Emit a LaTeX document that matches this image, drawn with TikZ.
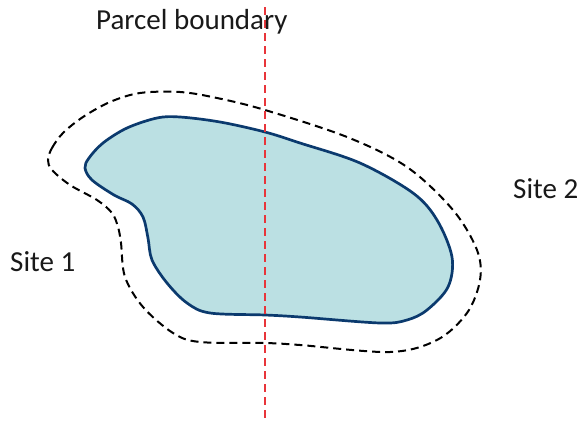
\documentclass[tikz,border=0pt]{standalone}
\usepackage{fontspec}
\setmainfont{Carlito}
\begin{document}
\begin{tikzpicture}[x=1pt,y=-1pt,
  lbl/.style={font=\fontsize{29}{33}\selectfont, inner sep=0pt, text=black!90},
  area/.style={draw=navy, line width=2.7pt, fill=lightblue},
  buffer/.style={draw=black, line width=2pt, dash pattern=on 8pt off 5pt},
  parcel/.style={draw=redline, line width=2pt, dash pattern=on 8pt off 5pt}]
\definecolor{navy}{HTML}{0B3A6E}
\definecolor{lightblue}{HTML}{BBE0E3}
\definecolor{redline}{HTML}{E8353A}
\useasboundingbox (0,0) rectangle (582,423);
% outer buffer (dashed)
\path[buffer] plot[smooth cycle, tension=0.55] coordinates {
 (48,160) (52,148) (63,133) (83,117) (110,102) (140,93) (180,92) (217,98) (265,110) (347,137) (407,167)
 (453,210) (477,250) (480,280) (467,313) (437,340) (390,352) (300,345) (265,343)
 (200,342) (173,333) (143,307) (125,277) (121,243) (118,227) (112,213) (97,200) (70,185) (52,170)};
% inner area
\path[area] plot[smooth cycle, tension=0.55] coordinates {
 (85,168) (89,158) (103,143) (127,128) (157,118) (180,117) (220,122) (265,132) (300,143) (360,163) (413,193)
 (437,220) (452,257) (448,287) (427,310) (407,320) (380,323) (300,317) (265,315)
 (210,313) (187,303) (167,283) (152,260) (148,238) (143,217) (132,204) (114,195) (92,180)};
% parcel boundary
\coordinate (ptop) at (265,7);
\coordinate (pbot) at (265,423);
\draw[parcel] (ptop) -- (pbot);
\node[lbl, anchor=base west] (pb) at (96,30) {Parcel boundary};
\node[lbl, anchor=base west] (s1) at (10,271) {Site 1};
\node[lbl, anchor=base west] (s2) at (513,198) {Site 2};
\end{tikzpicture}
\end{document}
